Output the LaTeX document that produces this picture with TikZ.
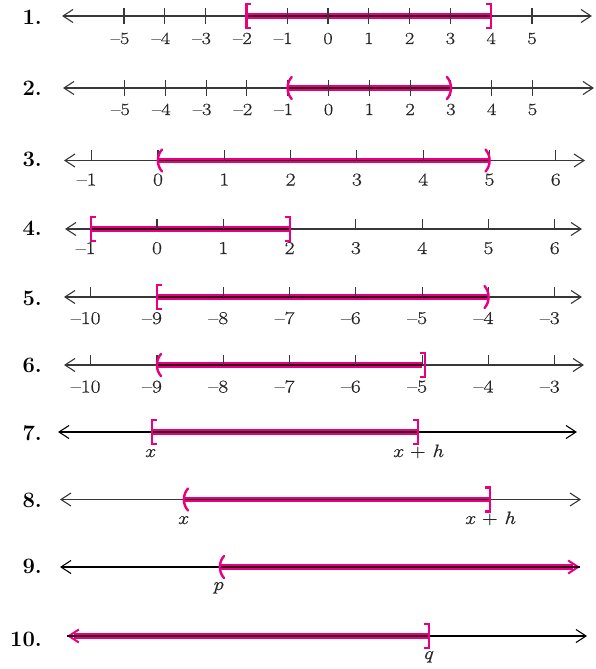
\documentclass[tikz,border=0pt]{standalone}
\usepackage{fontspec}
\setmainfont{Latin Modern Roman}
\newfontfamily\labfont[FakeStretch=1.2,FakeBold=0.6]{Latin Modern Roman}
\usetikzlibrary{arrows.meta}
\definecolor{hl}{RGB}{232,0,128}
\definecolor{ax}{RGB}{55,55,55}
\newcommand\nlab[1]{\ifnum#1<0 \textendash\number\numexpr0-(#1)\relax\else#1\fi}
\newcommand\lbr[2]{\draw[brk] ({#1+5},{#2-12}) -- (#1,{#2-12}) -- (#1,{#2+12}) -- ({#1+5},{#2+12});}
\newcommand\rbr[2]{\draw[brk] ({#1-5},{#2-12}) -- (#1,{#2-12}) -- (#1,{#2+12}) -- ({#1-5},{#2+12});}
\newcommand\lpar[2]{\draw[par] ({#1+4},{#2-11}) .. controls ({#1-1.5},{#2-5}) and ({#1-1.5},{#2+5}) .. ({#1+4},{#2+11});}
\newcommand\rpar[2]{\draw[par] ({#1-4},{#2-11}) .. controls ({#1+1.5},{#2-5}) and ({#1+1.5},{#2+5}) .. ({#1-4},{#2+11});}
\tikzset{
  tip/.tip={Straight Barb[length=10pt,width=13pt]},
  axisline/.style={draw=ax, line width=1.1pt, tip-tip},
  tickmark/.style={draw=ax, line width=1.1pt},
  band/.style={draw=hl, line width=5.5pt},
  core/.style={draw=black!80!hl, line width=1.2pt},
  brk/.style={draw=hl, line width=2.2pt, line cap=butt, line join=miter},
  par/.style={draw=hl, line width=2.4pt, line cap=round},
  rowno/.style={font=\fontsize{22}{22}\selectfont\bfseries, anchor=base east, inner sep=0pt},
  smlab/.style={font=\labfont\fontsize{17}{17}\selectfont, text=black!85, anchor=base, inner sep=0pt},
  biglab/.style={font=\labfont\fontsize{18}{18}\selectfont, text=black!85, anchor=base, inner sep=0pt},
  varlab/.style={font=\labfont\fontsize{18}{18}\selectfont, text=black!85, anchor=base, inner sep=0pt},
}
\begin{document}
\begin{tikzpicture}[x=1pt,y=-1pt]
\useasboundingbox (0,0) rectangle (595,669);

% ---------- Row 1 ----------
\node[rowno] (n1) at (42,25) {1.};
\coordinate (L1) at (62,16); \coordinate (R1) at (592,16);
\draw[axisline] (L1) -- (R1);
\coordinate (A1) at ({328-2*40.8},16); \coordinate (B1) at ({328+4*40.8},16);
\draw[band] (A1) -- (B1); \draw[core] (A1) -- (B1);
\foreach \k in {-5,...,5}{
  \pgfmathsetmacro\xx{328+40.8*\k}
  \pgfmathsetmacro\dx{\k<0 ? -4 : 0}
  \draw[tickmark] (\xx,8) -- (\xx,24);
  \node[smlab] (t1\k) at (\xx+\dx,44) {\nlab{\k}};
}
\lbr{246.4}{16} \rbr{491.2}{16}

% ---------- Row 2 ----------
\node[rowno] (n2) at (42,95) {2.};
\coordinate (L2) at (63,88); \coordinate (R2) at (594,88);
\draw[axisline] (L2) -- (R2);
\coordinate (A2) at ({328.5-40.8},88); \coordinate (B2) at ({328.5+3*40.8},88);
\draw[band] (A2) -- (B2); \draw[core] (A2) -- (B2);
\foreach \k in {-5,...,5}{
  \pgfmathsetmacro\xx{328.5+40.8*\k}
  \pgfmathsetmacro\dx{\k<0 ? -4 : 0}
  \draw[tickmark] (\xx,80) -- (\xx,96);
  \node[smlab] (t2\k) at (\xx+\dx,115) {\nlab{\k}};
}
\lpar{287.7}{88} \rpar{450.9}{88}

% ---------- Row 3 ----------
\node[rowno] (n3) at (42,166) {3.};
\coordinate (L3) at (64,160.5); \coordinate (R3) at (585,160.5);
\draw[axisline] (L3) -- (R3);
\coordinate (A3) at (158,160.5); \coordinate (B3) at ({158+5*66.3},160.5);
\draw[band] (A3) -- (B3); \draw[core] (A3) -- (B3);
\foreach \k in {-1,...,6}{
  \pgfmathsetmacro\xx{158+66.3*\k}
  \pgfmathsetmacro\dx{\k<0 ? -5 : 0}
  \draw[tickmark] (\xx,150) -- (\xx,160.5);
  \node[biglab] (t3\k) at (\xx+\dx,185.5) {\nlab{\k}};
}
\lpar{158}{160.5} \rpar{489.5}{160.5}

% ---------- Row 4 ----------
\node[rowno] (n4) at (42,235) {4.};
\coordinate (L4) at (65,229); \coordinate (R4) at (582,229);
\draw[axisline] (L4) -- (R4);
\coordinate (A4) at ({157-66.3},229); \coordinate (B4) at ({157+2*66.3},229);
\draw[band] (A4) -- (B4); \draw[core] (A4) -- (B4);
\foreach \k in {-1,...,6}{
  \pgfmathsetmacro\xx{157+66.3*\k}
  \pgfmathsetmacro\dx{\k<0 ? -5 : 0}
  \draw[tickmark] (\xx,219) -- (\xx,229);
  \node[biglab] (t4\k) at (\xx+\dx,254) {\nlab{\k}};
}
\lbr{90.7}{229} \rbr{289.6}{229}

% ---------- Row 5 ----------
\node[rowno] (n5) at (42,305) {5.};
\coordinate (L5) at (64,297); \coordinate (R5) at (582,297);
\draw[axisline] (L5) -- (R5);
\coordinate (A5) at (157,297); \coordinate (B5) at ({157+5*66.3},297);
\draw[band] (A5) -- (B5); \draw[core] (A5) -- (B5);
\foreach \k in {-10,...,-3}{
  \pgfmathsetmacro\xx{157+66.3*(\k+9)}
  \draw[tickmark] (\xx,287) -- (\xx,297);
  \node[biglab] (t5\k) at (\xx-5,324) {\nlab{\k}};
}
\lbr{157}{297} \rpar{488.5}{297}

% ---------- Row 6 ----------
\node[rowno] (n6) at (42,372) {6.};
\coordinate (L6) at (64,365); \coordinate (R6) at (584,365);
\draw[axisline] (L6) -- (R6);
\coordinate (A6) at (157,365); \coordinate (B6) at ({157+4*66.3},365);
\draw[band] (A6) -- (B6); \draw[core] (A6) -- (B6);
\foreach \k in {-10,...,-3}{
  \pgfmathsetmacro\xx{157+66.3*(\k+9)}
  \draw[tickmark] (\xx,355) -- (\xx,365);
  \node[biglab] (t6\k) at (\xx-5,392.5) {\nlab{\k}};
}
\lpar{157}{365} \rbr{425.2}{365}

% ---------- Row 7 ----------
\node[rowno] (n7) at (42,440) {7.};
\coordinate (L7) at (58,432); \coordinate (R7) at (577,432);
\draw[axisline, draw=black] (L7) -- (R7);
\coordinate (A7) at (152,432); \coordinate (B7) at (418,432);
\draw[band] (A7) -- (B7); \draw[core] (A7) -- (B7);
\lbr{152}{432} \rbr{418}{432}
\node[varlab] (x7) at (150,457) {\textit{x}};
\node[varlab] (xh7) at (418,457) {\textit{x} + \textit{h}};

% ---------- Row 8 ----------
\node[rowno] (n8) at (42,507) {8.};
\coordinate (L8) at (60,499.5); \coordinate (R8) at (581,499.5);
\draw[axisline] (L8) -- (R8);
\coordinate (A8) at (184,499.5); \coordinate (B8) at (490,499.5);
\draw[band] (A8) -- (B8); \draw[core] (A8) -- (B8);
\lpar{184}{499.5} \rbr{490}{499.5}
\node[varlab] (x8) at (183,524) {\textit{x}};
\node[varlab] (xh8) at (490,524) {\textit{x} + \textit{h}};

% ---------- Row 9 ----------
\node[rowno] (n9) at (42,573) {9.};
\coordinate (L9) at (60,567); \coordinate (R9) at (580,567);
\coordinate (A9) at (220,567); \coordinate (B9) at (573,567);
\draw[draw=black, line width=1.1pt, {tip}-] (L9) -- (A9);
\draw[band] (A9) -- (B9);
\draw[draw=hl, line width=2pt, -{tip}] (A9) -- (R9);
\draw[core] (A9) -- (R9);
\lpar{220}{567}
\node[varlab] (p9) at (218,590) {\textit{p}};

% ---------- Row 10 ----------
\node[rowno] (n10) at (42,646) {10.};
\coordinate (L10) at (67,636); \coordinate (R10) at (587,636);
\coordinate (A10) at (74,636); \coordinate (B10) at (429,636);
\draw[draw=black, line width=1.1pt, -{tip}] (B10) -- (R10);
\draw[band] (A10) -- (B10);
\draw[draw=hl, line width=2pt, {tip}-] (L10) -- (B10);
\draw[core] (L10) -- (B10);
\rbr{429}{636}
\node[varlab] (q10) at (428,659) {\textit{q}};
\end{tikzpicture}
\end{document}
